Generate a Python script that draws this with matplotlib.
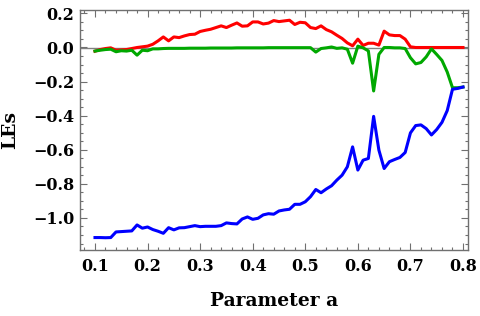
import numpy as np
import matplotlib.pyplot as plt
from matplotlib.ticker import MultipleLocator

# parameter values a = 0.10 ... 0.80
a = np.round(np.arange(0.10, 0.805, 0.01), 2)

# largest exponent (red)
le1 = [-0.022, -0.012, -0.006, -0.002, -0.016, -0.014, -0.012, -0.006, 0.000, 0.004,
       0.008, 0.019, 0.039, 0.062, 0.039, 0.062, 0.058, 0.068, 0.076, 0.078,
       0.094, 0.101, 0.107, 0.117, 0.127, 0.117, 0.131, 0.144, 0.125, 0.127,
       0.150, 0.150, 0.138, 0.143, 0.158, 0.152, 0.156, 0.160, 0.135, 0.148,
       0.145, 0.117, 0.111, 0.127, 0.105, 0.092, 0.072, 0.053, 0.027, 0.010,
       0.049, 0.012, 0.025, 0.025, 0.014, 0.096, 0.074, 0.070, 0.070, 0.049,
       0.004, 0.000, 0.000, 0.000, 0.000, 0.000, 0.000, 0.000, 0.000, 0.000,
       0.000]

# second exponent (green)
le2 = [-0.021, -0.016, -0.012, -0.010, -0.025, -0.019, -0.021, -0.016, -0.045, -0.016,
       -0.019, -0.008, -0.008, -0.006, -0.005, -0.005, -0.005, -0.005, -0.004, -0.004,
       -0.004, -0.004, -0.003, -0.003, -0.003, -0.003, -0.003, -0.002, -0.002, -0.002,
       -0.002, -0.002, -0.002, -0.001, -0.001, -0.001, -0.001, -0.001, -0.001, -0.001,
       -0.001, -0.001, -0.027, -0.006, -0.002, 0.003, -0.005, -0.002, -0.010, -0.092,
       0.008, -0.002, -0.020, -0.255, -0.040, 0.000, 0.000, -0.002, -0.002, -0.006,
       -0.060, -0.096, -0.088, -0.055, -0.008, -0.041, -0.076, -0.144, -0.236, -0.236,
       -0.232]

# third exponent (blue)
le3 = [-1.115, -1.115, -1.116, -1.115, -1.082, -1.080, -1.078, -1.076, -1.041, -1.060,
       -1.053, -1.068, -1.078, -1.090, -1.057, -1.070, -1.058, -1.057, -1.051, -1.045,
       -1.051, -1.049, -1.049, -1.049, -1.045, -1.029, -1.033, -1.035, -1.006, -0.994,
       -1.008, -1.002, -0.982, -0.975, -0.978, -0.959, -0.953, -0.949, -0.920, -0.920,
       -0.905, -0.875, -0.833, -0.852, -0.830, -0.811, -0.778, -0.749, -0.700, -0.583,
       -0.719, -0.661, -0.651, -0.404, -0.602, -0.710, -0.670, -0.657, -0.645, -0.616,
       -0.501, -0.458, -0.454, -0.476, -0.513, -0.481, -0.439, -0.370, -0.245, -0.240,
       -0.232]

fig = plt.figure(figsize=(4.8, 3.16), dpi=100)
ax = fig.add_axes([80 / 480, 66 / 316, 388 / 480, 240 / 316])

ax.axhline(0, color="#808080", lw=1.0, zorder=1)
ax.plot(a, le1, color="#ff0000", lw=2.2, zorder=2)
ax.plot(a, le2, color="#00a800", lw=2.2, zorder=3)
ax.plot(a, le3, color="#0000ff", lw=2.2, zorder=4)

ax.set_xlim(0.0715, 0.8095)
ax.set_ylim(-1.188, 0.22)

ax.xaxis.set_major_locator(MultipleLocator(0.1))
ax.xaxis.set_minor_locator(MultipleLocator(0.02))
ax.yaxis.set_major_locator(MultipleLocator(0.2))
ax.yaxis.set_minor_locator(MultipleLocator(0.05))

for s in ax.spines.values():
    s.set_color("#707070")
    s.set_linewidth(1.0)

ax.tick_params(which="both", direction="in", top=True, right=True, colors="#707070",
               labelcolor="black", width=0.8)
ax.tick_params(which="major", length=5)
ax.tick_params(which="minor", length=2.5)
ax.tick_params(axis="x", which="major", pad=6)
ax.tick_params(axis="y", which="major", pad=4)

ax.xaxis.set_major_formatter(plt.FuncFormatter(lambda v, p: "%.1f" % v))
ax.yaxis.set_major_formatter(plt.FuncFormatter(lambda v, p: ("%.1f" % v).replace("-", "\u2212")))

for lab in ax.get_xticklabels() + ax.get_yticklabels():
    lab.set_fontfamily("DejaVu Serif")
    lab.set_fontweight("bold")
    lab.set_fontsize(11.5)

ax.set_xlabel("Parameter a", fontfamily="DejaVu Serif", fontweight="bold", fontsize=13.5, labelpad=12)
ax.set_ylabel("LEs", fontfamily="DejaVu Serif", fontweight="bold", fontsize=13.5, labelpad=10)

fig.savefig("out.png", dpi=100)
